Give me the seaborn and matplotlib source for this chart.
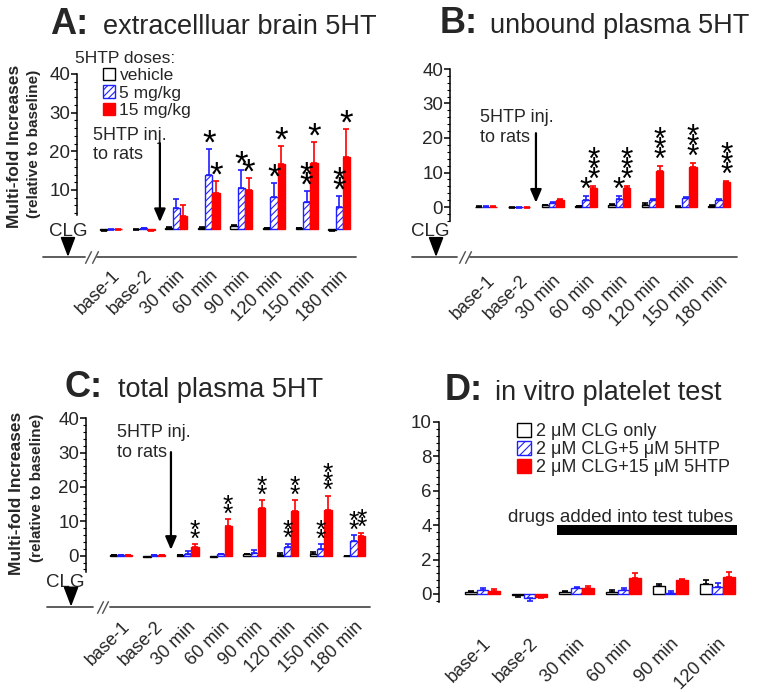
import numpy as np
import pandas as pd
import seaborn as sns
import matplotlib
matplotlib.use('Agg')
import matplotlib.pyplot as plt
from matplotlib.ticker import FixedLocator

sns.set_theme(style='ticks')
plt.rcParams['font.family'] = ['Liberation Sans', 'DejaVu Sans']
plt.rcParams['hatch.linewidth'] = 0.8

# ---------------- data ----------------
times_vivo = ['base-1', 'base-2', '30 min', '60 min', '90 min', '120 min', '150 min', '180 min']
times_vitro = ['base-1', 'base-2', '30 min', '60 min', '90 min', '120 min']
doses_vivo = ['vehicle', '5 mg/kg', '15 mg/kg']
doses_vitro = ['2 \u03bcM CLG only', '2 \u03bcM CLG+5 \u03bcM 5HTP', '2 \u03bcM CLG+15 \u03bcM 5HTP']

# A: extracellular brain 5HT  (bar value, end of error whisker)
brain_veh = [-0.3, -0.1, 0.2, 0.2, 0.6, 0.1, 0.1, -0.3]
brain_veh_tip = [-0.5, -0.3, 0.4, 0.4, 1.0, 0.3, 0.3, -0.5]
brain_5 = [-0.2, 0.1, 5.3, 13.8, 10.4, 8.1, 6.8, 5.7]
brain_5_tip = [-0.4, 0.3, 7.7, 20.5, 15.2, 11.7, 9.8, 8.4]
brain_15 = [-0.2, -0.4, 3.3, 9.1, 10.0, 16.7, 16.9, 18.4]
brain_15_tip = [-0.4, -0.6, 6.1, 12.2, 13.0, 21.4, 22.3, 25.7]
brain_stars_5 = [0, 0, 0, 1, 1, 1, 2, 2]
brain_stars_15 = [0, 0, 0, 1, 1, 1, 1, 1]

# B: unbound plasma 5HT
unbound_veh = [0.1, -0.1, 0.5, 0.3, 0.7, 0.6, 0.1, 0.4]
unbound_veh_tip = [0.2, -0.2, 0.6, 0.4, 0.9, 1.2, 0.2, 0.5]
unbound_5 = [0.1, -0.1, 1.1, 2.1, 2.2, 2.0, 2.5, 1.9]
unbound_5_tip = [0.2, -0.2, 1.4, 3.2, 3.1, 2.4, 2.9, 2.3]
unbound_15 = [0.1, -0.1, 1.9, 5.6, 5.4, 10.5, 11.7, 7.3]
unbound_15_tip = [0.2, -0.2, 2.2, 6.2, 6.1, 11.9, 12.8, 7.6]
unbound_stars_5 = [0, 0, 0, 1, 1, 0, 0, 0]
unbound_stars_15 = [0, 0, 0, 3, 3, 3, 3, 3]

# C: total plasma 5HT
total_veh = [0.2, -0.3, 0.2, -0.3, 0.4, 0.3, 0.4, -0.1]
total_veh_tip = [0.3, -0.5, 0.3, -0.5, 0.6, 0.9, 1.0, -0.2]
total_5 = [0.2, 0.1, 0.6, 0.4, 0.8, 2.6, 1.9, 4.3]
total_5_tip = [0.3, 0.2, 1.4, 0.6, 1.6, 3.5, 3.4, 6.0]
total_15 = [0.2, 0.1, 2.6, 8.7, 13.8, 13.0, 13.3, 5.7]
total_15_tip = [0.3, 0.2, 3.4, 10.7, 16.2, 16.2, 17.4, 6.7]
total_stars_5 = [0, 0, 0, 0, 0, 2, 2, 2]
total_stars_15 = [0, 0, 2, 2, 2, 2, 3, 2]

# D: in vitro platelet test
vitro_veh = [0.13, -0.05, 0.13, 0.13, 0.47, 0.58]
vitro_veh_tip = [0.2, -0.15, 0.2, 0.23, 0.56, 0.79]
vitro_5 = [0.25, -0.25, 0.35, 0.23, 0.08, 0.39]
vitro_5_tip = [0.37, -0.39, 0.4, 0.37, 0.19, 0.62]
vitro_15 = [0.17, -0.15, 0.37, 0.91, 0.81, 0.97]
vitro_15_tip = [0.27, -0.25, 0.48, 1.24, 0.89, 1.26]

BLUE = '#1f1fff'
RED = '#ff0000'
EDGE = ['black', BLUE, RED]
FACE = ['white', 'white', RED]
LINE = '#505050'

W, H = 762, 692
fig = plt.figure(figsize=(W / 100, H / 100), dpi=100)


def make_axes(x0, sx, xlim, y0, sy, ylim):
    # x0/y0: pixel of data origin, sx/sy: pixels per data unit
    left = x0 + sx * xlim[0]
    right = x0 + sx * xlim[1]
    top = y0 - sy * ylim[1]
    bottom = y0 - sy * ylim[0]
    ax = fig.add_axes([left / W, 1 - bottom / H, (right - left) / W, (bottom - top) / H])
    return ax


def draw_bars(ax, cats, doses, series, tips, width, hatch, xlim, ylim):
    df = pd.DataFrame({'time': np.tile(cats, len(doses)),
                       'dose': np.repeat(doses, len(cats)),
                       'value': np.concatenate(series)})
    sns.barplot(data=df, x='time', y='value', hue='dose', order=cats, hue_order=doses,
                palette=['#000000', BLUE, RED], width=width, errorbar=None, saturation=1,
                legend=False, ax=ax)
    conts = list(ax.containers)
    centers = []
    for k, cont in enumerate(conts):
        for bar in cont:
            bar.set_facecolor(FACE[k])
            bar.set_edgecolor(EDGE[k])
            bar.set_linewidth(1.0)
            if k == 1:
                bar.set_hatch(hatch)
        xs = np.sort([b.get_x() + b.get_width() / 2 for b in cont])
        centers.append(xs)
        v = np.array(series[k])
        t = np.array(tips[k])
        lo = np.clip(v - t, 0, None)
        hi = np.clip(t - v, 0, None)
        m = (lo + hi) > 0
        ax.errorbar(xs[m], v[m], yerr=[lo[m], hi[m]], fmt='none', ecolor=EDGE[k],
                    elinewidth=1.2, capsize=2.5, capthick=1.2, zorder=3)
    ax.set_xlim(xlim)
    ax.set_ylim(ylim)
    ax.set_xlabel('')
    ax.set_ylabel('')
    ax.set_xticks(range(len(cats)))
    ax.set_xticklabels(cats, rotation=45, ha='right', va='top', rotation_mode='anchor', fontsize=13)
    ax.tick_params(axis='x', length=0, pad=3)
    for s in ['top', 'right', 'bottom']:
        ax.spines[s].set_visible(False)
    ax.spines['left'].set_linewidth(1.1)
    ax.spines['left'].set_color('black')
    return conts, centers


def stars(ax, centers, tips, counts, fs, d_px, s_px):
    for k in (1, 2):
        for i, n in enumerate(counts[k - 1]):
            for j in range(n):
                off = (d_px + j * s_px) * 0.72 - 0.36 * fs
                ax.annotate('*', xy=(centers[k][i], tips[k][i]), xytext=(0, off),
                            textcoords='offset points', ha='center', va='baseline',
                            fontsize=fs, color='black', annotation_clip=False)


def y_axis(ax, major, minor, bounds):
    ax.yaxis.set_major_locator(FixedLocator(major))
    ax.yaxis.set_minor_locator(FixedLocator(minor))
    ax.spines['left'].set_bounds(*bounds)
    ax.tick_params(axis='y', which='major', direction='out', length=4, width=1.1,
                   labelsize=13.5, pad=1, color='black')
    ax.tick_params(axis='y', which='minor', direction='out', length=2.2, width=0.8, color='black')


def timeline(ax, y, x_start, x_brk1, slashes, x_brk2, x_end, clg_tx, clg_x, clg_y, shaft_top):
    ax.plot([x_start, x_brk1], [y, y], color=LINE, lw=1.3, clip_on=False)
    ax.plot([x_brk2, x_end], [y, y], color=LINE, lw=1.3, clip_on=False)
    ax.plot(slashes, [y, y], linestyle='none', marker=[(-1, -2), (1, 2)], ms=9,
            mew=1.0, mec=LINE, clip_on=False)
    ax.text(clg_tx, clg_y, 'CLG', ha='center', va='baseline', fontsize=13.5)
    ax.annotate('', xy=(clg_x, y), xytext=(clg_x, shaft_top),
                arrowprops=dict(arrowstyle='-|>,head_length=1.0,head_width=0.38',
                                color='black', lw=1.3, shrinkA=0, shrinkB=0),
                annotation_clip=False)


def injection(ax, x_txt, y1, y2, x_arrow, y_top, y_tip):
    ax.text(x_txt, y1, '5HTP inj.', ha='left', va='baseline', fontsize=13)
    ax.text(x_txt, y2, 'to rats', ha='left', va='baseline', fontsize=13)
    ax.annotate('', xy=(x_arrow, y_tip), xytext=(x_arrow, y_top),
                arrowprops=dict(arrowstyle='-|>,head_length=0.65,head_width=0.28',
                                color='black', lw=1.6, shrinkA=0, shrinkB=0),
                annotation_clip=False)


def title(xl, xt, y, letter, text):
    fig.text(xl / W, 1 - y / H, letter, fontsize=26, fontweight='bold', va='baseline', ha='left')
    fig.text(xt / W, 1 - y / H, text, fontsize=19.5, va='baseline', ha='left')


def ylabel(x1, y1, x2, y2):
    fig.text(x1 / W, 1 - y1 / H, 'Multi-fold Increases', rotation=90, fontsize=12.5,
             fontweight='bold', ha='center', va='center')
    fig.text(x2 / W, 1 - y2 / H, '(relative to baseline)', rotation=90, fontsize=11,
             fontweight='bold', ha='center', va='center')


major40 = [0, 10, 20, 30, 40]

# ---------------- Panel A ----------------
xlimA, ylimA = (-1.04, 7.52), (-8.9, 41)
axA = make_axes(111, 32.6, xlimA, 228.7, 3.87, ylimA)
tipsA = [brain_veh_tip, brain_5_tip, brain_15_tip]
bA, cA = draw_bars(axA, times_vivo, doses_vivo, [brain_veh, brain_5, brain_15], tipsA,
                   0.67, '/////', xlimA, ylimA)
y_axis(axA, [10, 20, 30, 40], [t for t in range(4, 41, 2) if t % 10], (3.5, 40))
stars(axA, cA, tipsA, [brain_stars_5, brain_stars_15], 25, 8, 10)
timeline(axA, -7.3, -2.09, -0.80, [-0.71, -0.49], -0.43, 7.52, -1.32, -1.32, -1.9, -2.4)
injection(axA, -0.55, 23.0, 18.1, 1.5, 22.1, 1.7)
fig.text(75 / W, 1 - 63 / H, '5HTP doses:', fontsize=12.5, va='baseline')
axA.legend([c[0] for c in bA], doses_vivo, loc='upper left',
           bbox_to_anchor=(103 / W, 1 - 68 / H), bbox_transform=fig.transFigure,
           frameon=False, fontsize=12.5, handlelength=0.7, handleheight=0.7,
           handletextpad=0.25, labelspacing=0.13, borderpad=0, borderaxespad=0)
title(50, 103, 34, 'A:', 'extracellluar brain 5HT')
ylabel(15, 146.5, 34, 143.5)

# ---------------- Panel B ----------------
xlimB, ylimB = (-1.08, 7.54), (-17.7, 41)
axB = make_axes(486, 33.3, xlimB, 207, 3.45, ylimB)
tipsB = [unbound_veh_tip, unbound_5_tip, unbound_15_tip]
bB, cB = draw_bars(axB, times_vivo, doses_vivo, [unbound_veh, unbound_5, unbound_15], tipsB,
                   0.66, '/////', xlimB, ylimB)
y_axis(axB, major40, [t for t in range(-4, 41, 2) if t % 10], (-4, 40))
stars(axB, cB, tipsB, [unbound_stars_5, unbound_stars_15], 23, 8.5, 10)
timeline(axB, -14.5, -2.22, -0.87, [-0.72, -0.54], -0.48, 7.54, -1.68, -1.5, -8.4, -9.0)
injection(axB, -0.18, 24.7, 18.9, 1.5, 21.4, 1.25)
title(440, 490, 33, 'B:', 'unbound plasma 5HT')

# ---------------- Panel C ----------------
xlimC, ylimC = (-1.05, 7.48), (-17, 41)
axC = make_axes(121, 33.3, xlimC, 555.7, 3.44, ylimC)
tipsC = [total_veh_tip, total_5_tip, total_15_tip]
bC, cC = draw_bars(axC, times_vivo, doses_vivo, [total_veh, total_5, total_15], tipsC,
                   0.66, '/////', xlimC, ylimC)
y_axis(axC, major40, [t for t in range(-4, 41, 2) if t % 10], (-4.6, 40))
stars(axC, cC, tipsC, [total_stars_5, total_stars_15], 19, 7, 8.5)
timeline(axC, -14.8, -2.22, -0.84, [-0.63, -0.48], -0.33, 7.48, -1.68, -1.5, -9.0, -9.7)
injection(axC, -0.13, 34.6, 28.8, 1.5, 30.1, 1.7)
title(65, 118, 397, 'C:', 'total plasma 5HT')
ylabel(17, 493.5, 37, 488)

# ---------------- Panel D ----------------
xlimD, ylimD = (-0.93, 5.5), (-2.15, 10.3)
axD = make_axes(482.5, 47, xlimD, 594, 17.2, ylimD)
tipsD = [vitro_veh_tip, vitro_5_tip, vitro_15_tip]
bD, cD = draw_bars(axD, times_vitro, doses_vitro, [vitro_veh, vitro_5, vitro_15], tipsD,
                   0.745, '////', xlimD, ylimD)
y_axis(axD, [0, 2, 4, 6, 8, 10], [round(t * 0.4, 1) for t in range(-1, 26) if t % 5], (-0.45, 10))
axD.fill_between([1.59, 5.41], 3.43, 4.01, color='black', lw=0, clip_on=False)
axD.text(0.54, 4.2, 'drugs added into test tubes', fontsize=13.5, va='baseline', ha='left')
axD.legend([c[0] for c in bD], doses_vitro, loc='upper left',
           bbox_to_anchor=(517 / W, 1 - 423 / H), bbox_transform=fig.transFigure,
           frameon=False, fontsize=13, handlelength=0.8, handleheight=0.8,
           handletextpad=0.25, labelspacing=0.05, borderpad=0, borderaxespad=0)
title(445, 495, 400, 'D:', 'in vitro platelet test')

fig.savefig('out.png', dpi=100)
